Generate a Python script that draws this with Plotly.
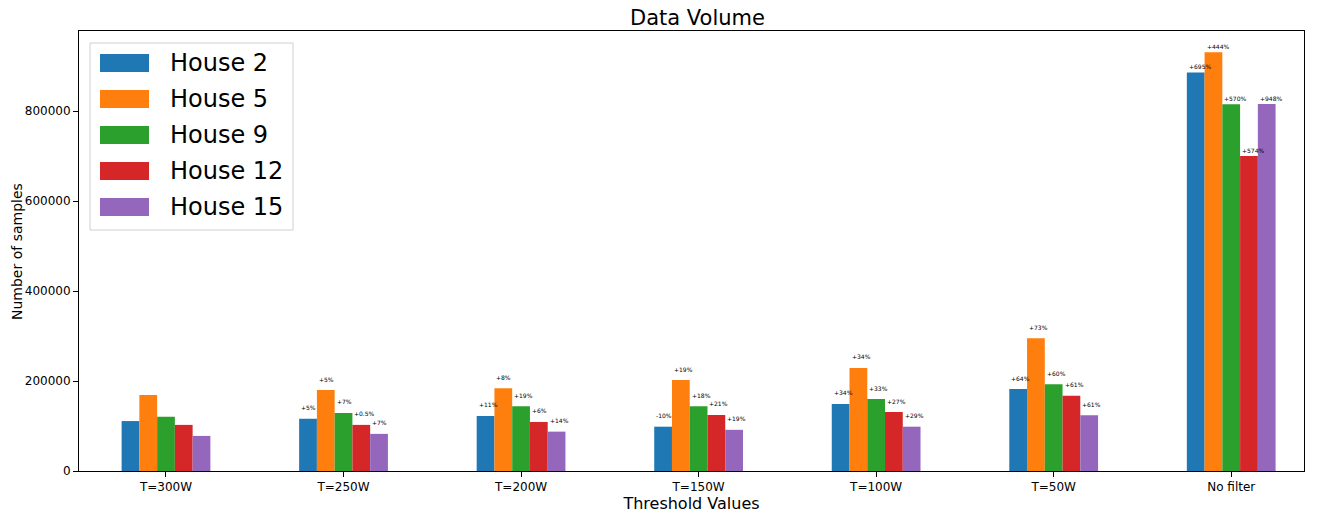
import plotly.graph_objects as go

categories = ["T=300W", "T=250W", "T=200W", "T=150W", "T=100W", "T=50W", "No filter"]
houses = ["House 2", "House 5", "House 9", "House 12", "House 15"]
colors = ["#1f77b4", "#ff7f0e", "#2ca02c", "#d62728", "#9467bd"]

house2 = [111000, 116000, 122500, 98500, 149000, 182000, 886000]
house5 = [169000, 180000, 184000, 202000, 229000, 295000, 931000]
house9 = [120500, 129000, 144000, 144000, 160000, 193000, 815000]
house12 = [102500, 102500, 109000, 124500, 131000, 167000, 700000]
house15 = [78000, 82500, 87500, 91500, 98500, 124000, 815500]

pct2 = ["", "+5%", "+11%", "-10%", "+34%", "+64%", "+695%"]
pct5 = ["", "+5%", "+8%", "+19%", "+34%", "+73%", "+444%"]
pct9 = ["", "+7%", "+19%", "+18%", "+33%", "+60%", "+570%"]
pct12 = ["", "+0.5%", "+6%", "+21%", "+27%", "+61%", "+574%"]
pct15 = ["", "+7%", "+14%", "+19%", "+29%", "+61%", "+948%"]

values = [house2, house5, house9, house12, house15]
pcts = [pct2, pct5, pct9, pct12, pct15]

# page has an 8px body margin; figure is placed at (8, 8) in the window
OFF = 8
W, H = 1325 - OFF, 517 - OFF
L, R, T, B = 79 - OFF, 21, 31 - OFF, 46
PW, PH = W - L - R, H - T - B

def px(x):
    # x in window pixels -> paper fraction
    return (x - OFF - L) / PW

def py(y):
    return 1 - (y - OFF - T) / PH

xs = list(range(len(categories)))
fig = go.Figure()
for name, vals, col in zip(houses, values, colors):
    fig.add_trace(go.Bar(x=xs, y=vals, name=name, marker=dict(color=col, line=dict(width=0)),
                         showlegend=False))

annotations = []
for j, (vals, labels) in enumerate(zip(values, pcts)):
    for i, (v, lab) in enumerate(zip(vals, labels)):
        if not lab:
            continue
        annotations.append(dict(
            x=i + (j - 2.5) * 0.1, y=v, xref="x", yref="y", text=lab,
            showarrow=False, xanchor="left", yanchor="middle",
            yshift=6 if i == len(categories) - 1 else 11,
            font=dict(size=6, color="#000000", family="DejaVu Sans")))

# y-axis title
annotations.append(dict(x=px(17), y=0.5, xref="paper", yref="paper", text="Number of samples",
                        textangle=-90, showarrow=False, xanchor="center", yanchor="middle",
                        font=dict(size=14, color="#000000", family="DejaVu Sans")))

# chart title as annotation, placed just inside the figure top
annotations.append(dict(x=(698 - OFF - L) / PW, y=1, xref="paper", yref="paper", text="Data Volume",
                        showarrow=False, xanchor="center", yanchor="bottom", yshift=-1,
                        font=dict(size=21, color="#000000", family="DejaVu Sans")))

shapes = []
# legend box
shapes.append(dict(type="rect", xref="paper", yref="paper", x0=px(90), x1=px(293), y0=py(230), y1=py(43),
                   line=dict(color="#d0d0d0", width=1), fillcolor="rgba(255,255,255,0.8)", layer="above"))
for k, (name, col) in enumerate(zip(houses, colors)):
    yc = 63 + 36 * k
    shapes.append(dict(type="rect", xref="paper", yref="paper", x0=px(100), x1=px(149),
                       y0=py(yc + 9), y1=py(yc - 9), line=dict(width=0), fillcolor=col, layer="above"))
    annotations.append(dict(x=px(168), y=py(yc), xref="paper", yref="paper", text=name,
                            showarrow=False, xanchor="left", yanchor="middle",
                            font=dict(size=24, color="#000000", family="DejaVu Sans")))

fig.update_layout(
    width=W, height=H,
    margin=dict(l=L, r=R, t=T, b=B, pad=0, autoexpand=False),
    paper_bgcolor="white", plot_bgcolor="white",
    barmode="group", bargap=0.5, bargroupgap=0,
    font=dict(family="DejaVu Sans", color="#000000"),
    annotations=annotations,
    shapes=shapes,
)
fig.update_xaxes(
    range=[-0.49, 6.41], tickmode="array", tickvals=xs, ticktext=categories, automargin=False,
    showgrid=False, zeroline=False, showline=True, mirror=True, linecolor="#000000", linewidth=1,
    ticks="outside", ticklen=5, tickwidth=1, tickcolor="#000000",
    tickfont=dict(size=12, color="#000000", family="DejaVu Sans"),
    title=dict(text="Threshold Values", standoff=4, font=dict(size=16, color="#000000", family="DejaVu Sans")),
)
fig.update_yaxes(
    range=[0, 978000], tickmode="array", tickvals=[0, 200000, 400000, 600000, 800000],
    ticktext=["0", "200000", "400000", "600000", "800000"], automargin=False,
    showgrid=False, zeroline=False, showline=True, mirror=True, linecolor="#000000", linewidth=1,
    ticks="outside", ticklen=5, tickwidth=1, tickcolor="#000000",
    tickfont=dict(size=12, color="#000000", family="DejaVu Sans"),
)

fig.write_html("out.html")
